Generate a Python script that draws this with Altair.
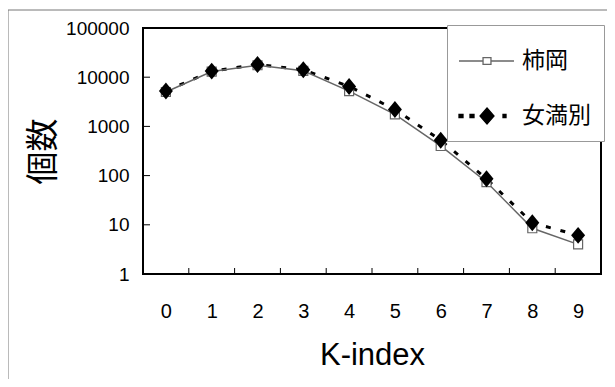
import altair as alt
import pandas as pd

# ---- data ----
k_index = [0, 1, 2, 3, 4, 5, 6, 7, 8, 9]
kakioka = [5000, 13000, 17500, 13500, 5200, 1750, 400, 74, 8.5, 4]
memanbetsu = [5250, 13300, 18200, 14200, 6500, 2200, 525, 86, 11, 6.1]
series_names = ["柿岡", "女満別"]
y_ticks = [1, 10, 100, 1000, 10000, 100000]
tick_bounds = [k + 0.5 for k in k_index[:-1]]

rows = []
for k, a, b in zip(k_index, kakioka, memanbetsu):
    rows.append({"k": k, "v": a, "s": series_names[0]})
    rows.append({"k": k, "v": b, "s": series_names[1]})
df = pd.DataFrame(rows)
df_a = df[df.s == series_names[0]]
df_b = df[df.s == series_names[1]]

W, H = 458, 246
NUM_FONT = "Liberation Sans"
CJK_FONT = "Noto Sans CJK JP"

xscale = alt.Scale(domain=[-0.5, 9.5], nice=False, zero=False)
yscale = alt.Scale(type="log", domain=[1, 100000], nice=False)

X = alt.X("k:Q", scale=xscale,
          axis=alt.Axis(values=k_index, format="d", ticks=False, grid=False, domain=False,
                        labelFont=NUM_FONT, labelFontSize=20, labelColor="#000",
                        labelPadding=27, title="K-index", titleFont="Liberation Sans",
                        titleFontSize=31, titleFontWeight="normal", titleColor="#000",
                        titlePadding=19))
Y = alt.Y("v:Q", scale=yscale,
          axis=alt.Axis(values=y_ticks, format="d", grid=False, domain=False,
                        ticks=False,
                        labelFont=NUM_FONT, labelFontSize=19, labelColor="#000",
                        labelPadding=14, title="個数", titleFont=CJK_FONT,
                        titleFontSize=33, titleFontWeight="normal", titleColor="#000",
                        titlePadding=5))

frame = alt.Chart(alt.Data(values=[{"f": 1}])).mark_rect(
    fill=None, stroke="#777", strokeWidth=1
).encode(x=alt.value(-135), x2=alt.value(W + 200), y=alt.value(-18), y2=alt.value(H + 200))

xticks = alt.Chart(pd.DataFrame({"b": tick_bounds})).mark_rule(
    color="#000", strokeWidth=1
).encode(x=alt.X("b:Q", scale=xscale), y=alt.value(H), y2=alt.value(H - 6))

yticks = alt.Chart(pd.DataFrame({"t": y_ticks[1:-1]})).mark_rule(
    color="#000", strokeWidth=1
).encode(y=alt.Y("t:Q", scale=yscale), x=alt.value(0), x2=alt.value(7))

line_b = alt.Chart(df_b).mark_line(color="#000", strokeWidth=3, strokeDash=[5, 10]).encode(x=X, y=Y)
line_a = alt.Chart(df_a).mark_line(color="#666", strokeWidth=1.5).encode(x=X, y=Y)
pts_a = alt.Chart(df_a).mark_point(shape="square", size=81, filled=False, color="#666",
                                   fill="white", strokeWidth=1.2, opacity=1).encode(x=X, y=Y)
diamond = "M0,-1.06L0.875,0L0,1.06L-0.875,0Z"
pts_b = alt.Chart(df_b).mark_point(shape=diamond, size=256, filled=True, color="#000",
                                   opacity=1).encode(x=X, y=Y)

leg_a = ("M-1.091,0H0.002M0.362,0H1.409"
         "M0.002,-0.15H0.362V0.15H0.002Z")
leg_b = ("M-1.091,-0.068H-0.909V0.068H-1.091Z"
         "M-0.591,-0.068H-0.409V0.068H-0.591Z"
         "M0.182,-0.364L0.5,0L0.182,0.364L-0.136,0Z"
         "M0.909,-0.068H1.046V0.068H0.909Z")
legend_layer = alt.Chart(df).mark_point(opacity=0).encode(
    x=X, y=Y,
    shape=alt.Shape("s:N", scale=alt.Scale(domain=series_names, range=[leg_a, leg_b]),
                    legend=alt.Legend(title=None, orient="none", legendX=304, legendY=-3,
                                      padding=13, rowPadding=20, symbolSize=1936,
                                      labelOffset=16, labelFont=CJK_FONT, labelFontSize=23,
                                      labelColor="#000", fillColor="white", strokeColor="#999",
                                      symbolStrokeWidth=1.3, symbolOpacity=1, labelLimit=200)),
    fill=alt.Fill("s:N", scale=alt.Scale(domain=series_names, range=["white", "#000"]), title=None),
    stroke=alt.Stroke("s:N", scale=alt.Scale(domain=series_names, range=["#666", "#000"]), title=None),
)

chart = alt.layer(frame, line_b, line_a, pts_a, pts_b, xticks, yticks, legend_layer).properties(
    width=W, height=H,
    autosize=alt.AutoSizeParams(type="none"),
    padding={"left": 135, "top": 20, "right": 6, "bottom": 105},
    background="white",
).configure_view(stroke="#000", strokeWidth=2)

chart.save("out.html", embed_options={"renderer": "svg", "actions": False})
